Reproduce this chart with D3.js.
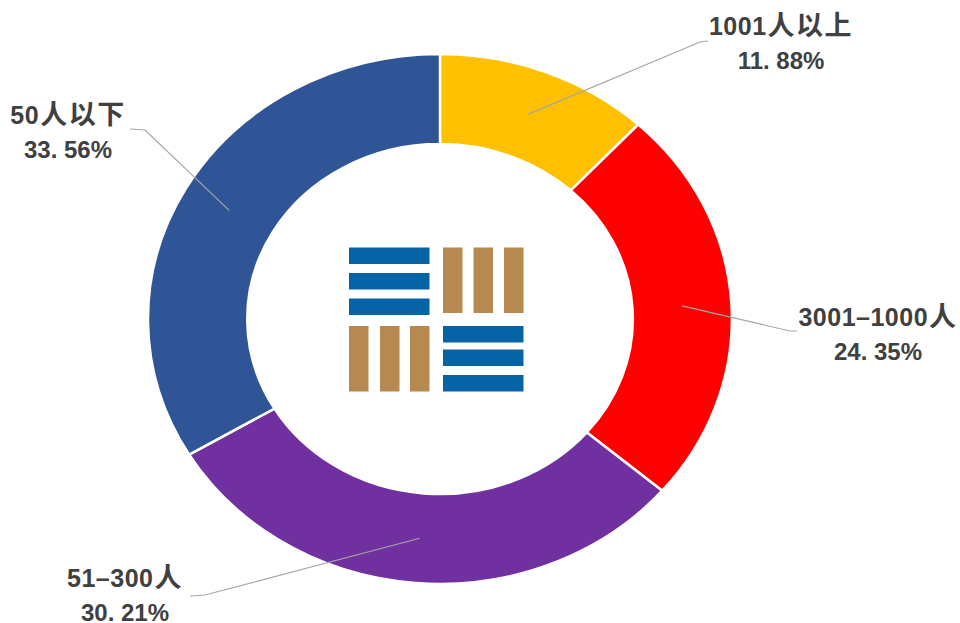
<!DOCTYPE html>
<html><head><meta charset="utf-8">
<script src="https://cdnjs.cloudflare.com/ajax/libs/d3/7.8.5/d3.min.js"></script>
<style>
html,body{margin:0;padding:0;background:#fff;overflow:hidden}
text{font-family:"Liberation Sans","Noto Sans CJK SC",sans-serif;font-weight:bold;font-size:24px;fill:#404040;text-anchor:middle}
tspan.lat{font-size:25px;letter-spacing:.5px}
tspan.cjk{font-family:"Noto Sans CJK SC",sans-serif;font-size:27px;letter-spacing:1.5px}
</style></head><body>
<svg id="c" width="960" height="623"></svg>
<script>
const categories = ["1001人以上","3001–1000人","51–300人","50人以下"];
const values = [11.88,24.35,30.21,33.56];
const valueLabels = ["11. 88%","24. 35%","30. 21%","33. 56%"];
const colors = ["#FFC000","#FF0000","#7030A0","#2F5597"];

const W=960,H=623,cx=440,cy=319,rx=292,ry=265,inner=175/265;
// leader elbow, leader end, text centre, first baseline (layout only)
const labelLayout = [
  {elbow:[700,42], end:[708,41], tx:781, ty:35},
  {elbow:[790,331],end:[797,331],tx:878, ty:326},
  {elbow:[205,595],end:[190,596],tx:125, ty:587},
  {elbow:[145,130],end:[130,129],tx:68,  ty:124}
];
const svg=d3.select("#c");
const pie=d3.pie().sort(null).value(d=>d)(values);
const arc=d3.arc().innerRadius(inner).outerRadius(1);
const g=svg.append("g").attr("transform",`translate(${cx},${cy}) scale(${rx},${ry})`);
g.selectAll("path").data(pie).join("path")
  .attr("d",arc).attr("fill",(d,i)=>colors[i])
  .attr("stroke","#fff").attr("stroke-width",2.5).attr("vector-effect","non-scaling-stroke");

const line=d3.line();
svg.append("g").selectAll("path").data(pie).join("path")
  .attr("fill","none").attr("stroke","#A6A6A6").attr("stroke-width",1.2)
  .attr("d",(d,i)=>{const c=arc.centroid(d);
    return line([[cx+c[0]*rx,cy+c[1]*ry],labelLayout[i].elbow,labelLayout[i].end]);});

const t=svg.append("g");
categories.forEach((n,i)=>{const l=labelLayout[i];
  const el=t.append("text").attr("x",l.tx).attr("y",l.ty);
  // split latin and CJK runs so the CJK run gets its own size and spacing
  n.match(/[\u4e00-\u9fff]+|[^\u4e00-\u9fff]+/g).forEach(run=>{
    const isCjk=/[\u4e00-\u9fff]/.test(run);
    el.append("tspan").attr("class",isCjk?"cjk":"lat").attr("dx",isCjk?1:null).text(run);
  });
  t.append("text").attr("x",l.tx).attr("y",l.ty+34).text(valueLabels[i]);
});

// centre emblem
const blue="#0563A6",brown="#B5894F";
const logo=svg.append("g");
const rects=[
 ...[247.5,273,298.5].map(y=>[349,y,80.5,16.5,blue]),
 ...[443,473.5,504].map(x=>[x,247.5,19.5,65.5,brown]),
 ...[349,380,410].map(x=>[x,326,19.5,65.5,brown]),
 ...[326,349.5,375].map(y=>[443,y,80.5,16.5,blue])
];
logo.selectAll("rect").data(rects).join("rect")
  .attr("x",d=>d[0]).attr("y",d=>d[1]).attr("width",d=>d[2]).attr("height",d=>d[3]).attr("fill",d=>d[4]);
</script></body></html>
